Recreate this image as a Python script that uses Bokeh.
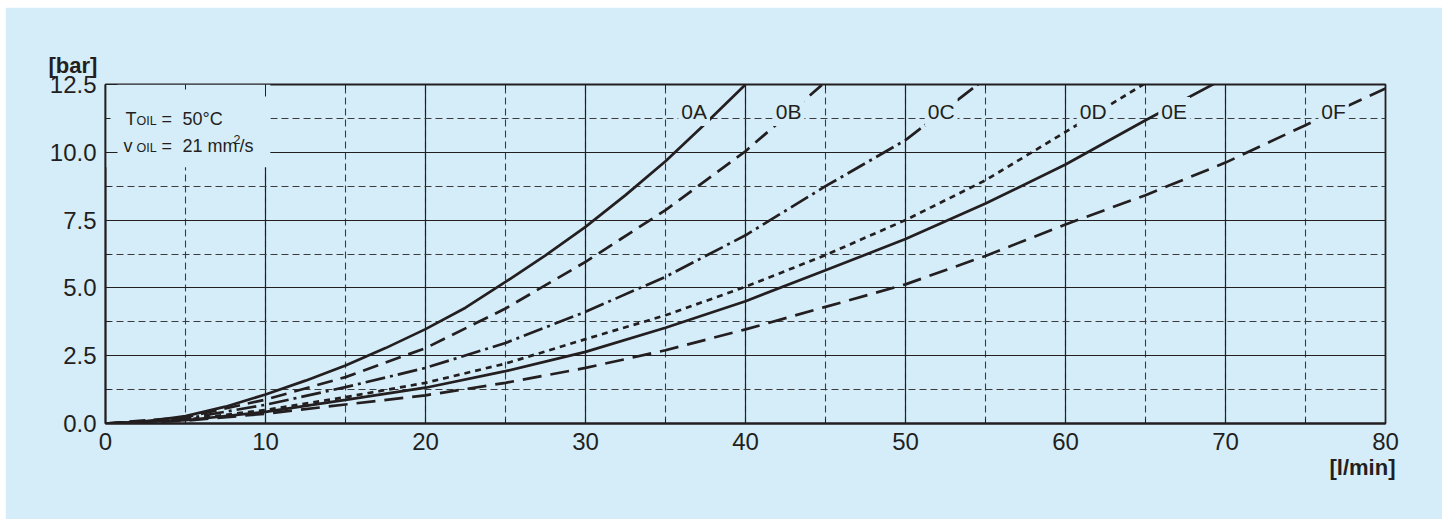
from bokeh.plotting import figure
from bokeh.models import (Range1d, SingleIntervalTicker, LinearAxis, Label, Title,
                          PrintfTickFormatter, CustomJSTickFormatter)
from bokeh.embed import file_html
from bokeh.resources import INLINE

BG = "#d5edf9"
INK = "#231f20"
FONT = "Liberation Sans"

# ---- data: flow [l/min] vs pressure drop [bar] ----
flow_A = [0, 2.5, 5, 7.5, 10, 12.5, 15, 17.5, 20, 22.5, 25, 27.5, 30, 32.5, 35, 37.5, 40]
dp_A = [0, 0.07, 0.27, 0.62, 1.07, 1.58, 2.14, 2.78, 3.48, 4.27, 5.22, 6.2, 7.25, 8.42, 9.67, 11.06, 12.5]

flow_B = [0, 5, 10, 15, 20, 25, 30, 35, 40, 45]
dp_B = [0, 0.23, 0.88, 1.71, 2.78, 4.24, 5.96, 7.87, 10.04, 12.6]

flow_C = [0, 5, 10, 15, 20, 25, 30, 35, 40, 45, 50, 55]
dp_C = [0, 0.18, 0.69, 1.34, 2.05, 2.97, 4.12, 5.41, 6.94, 8.75, 10.45, 12.72]

flow_D = [0, 5, 10, 15, 20, 25, 30, 35, 40, 45, 50, 55, 60, 65]
dp_D = [0, 0.14, 0.5, 0.97, 1.5, 2.21, 3.11, 3.99, 5.04, 6.21, 7.5, 8.97, 10.75, 12.55]

flow_E = [0, 5, 10, 15, 20, 25, 30, 35, 40, 45, 50, 55, 60, 65, 70]
dp_E = [0, 0.12, 0.43, 0.87, 1.32, 1.93, 2.64, 3.53, 4.51, 5.65, 6.8, 8.11, 9.55, 11.18, 12.75]

flow_F = [0, 5, 10, 15, 20, 25, 30, 35, 40, 45, 50, 55, 60, 65, 70, 75, 80]
dp_F = [0, 0.1, 0.36, 0.7, 1.04, 1.5, 2.05, 2.7, 3.47, 4.3, 5.13, 6.18, 7.34, 8.42, 9.62, 11.0, 12.35]

series_names = ["0A", "0B", "0C", "0D", "0E", "0F"]
series_flow = [flow_A, flow_B, flow_C, flow_D, flow_E, flow_F]
series_dp = [dp_A, dp_B, dp_C, dp_D, dp_E, dp_F]

# ---- styles / positions ----
series_dash = ["solid", "16 8", "20 5 3 5", "6 5", "solid", "19 9"]
label_x = [35.8, 41.7, 51.2, 60.7, 65.8, 75.8]
label_y = 11.5
legend_box = dict(left=0, right=10.3, bottom=9.45, top=12.5)

p = figure(frame_width=1280, frame_height=339,
           min_border_left=100, min_border_right=57, min_border_top=77, min_border_bottom=96,
           x_range=Range1d(0, 80), y_range=Range1d(0, 12.5),
           output_backend="svg", toolbar_location=None,
           background_fill_color=BG, border_fill_color=BG,
           outline_line_color=INK, outline_line_width=1.8)
p.margin = (7, 0, 0, 5)

bottom_axis = p.below[0]
left_axis = p.left[0]

xt = SingleIntervalTicker(interval=10, num_minor_ticks=2)
yt = SingleIntervalTicker(interval=2.5, num_minor_ticks=2)
bottom_axis.ticker = xt
left_axis.ticker = yt
p.xgrid.ticker = xt
p.ygrid.ticker = yt
left_axis.formatter = PrintfTickFormatter(format="%.1f")

for g in (p.xgrid, p.ygrid):
    g.grid_line_color = INK
    g.grid_line_width = 1.2
    g.minor_grid_line_color = "#3c3c3c"
    g.minor_grid_line_width = 1.1
    g.minor_grid_line_dash = "7 4"

top_axis = LinearAxis(ticker=xt, formatter=CustomJSTickFormatter(code="return ''"),
                      major_label_standoff=0, major_label_text_font_size="0px")
p.add_layout(top_axis, "above")

for ax in (bottom_axis, left_axis, top_axis):
    ax.major_tick_in = 12
    ax.major_tick_out = 0
    ax.minor_tick_in = 5
    ax.minor_tick_out = 0
    ax.major_tick_line_color = INK
    ax.minor_tick_line_color = INK
    ax.axis_line_color = INK
    ax.axis_line_width = 1.8
    ax.major_label_text_color = INK
top_axis.axis_line_color = None
for ax in (bottom_axis, left_axis):
    ax.major_label_text_font = FONT
    ax.major_label_text_font_size = "24px"
left_axis.major_label_standoff = 9
bottom_axis.major_label_standoff = 9

# axis unit labels as titles (side panels are not clipped)
p.title.text = "[bar]"
p.title.align = "left"
p.title.offset = -57
p.title.standoff = 14
p.title.text_font = FONT
p.title.text_font_size = "22px"
p.title.text_font_style = "bold"
p.title.text_color = INK
p.add_layout(Title(text="[l/min]", align="right", offset=-10, standoff=0,
                   text_font=FONT, text_font_size="22px", text_font_style="bold",
                   text_color=INK), "below")

# background patch behind the legend text
p.quad(left=[legend_box["left"]], right=[legend_box["right"]],
       bottom=[legend_box["bottom"]], top=[legend_box["top"]],
       fill_color=BG, line_color=None)

for fl, dp, dash in zip(series_flow, series_dp, series_dash):
    p.line(fl, dp, line_color=INK, line_width=2.7, line_dash=dash)

for name, lx in zip(series_names, label_x):
    p.add_layout(Label(x=lx, y=label_y, text=name, text_font=FONT, text_font_size="21px",
                       text_color=INK, text_baseline="middle", text_align="left",
                       background_fill_color=BG, padding=3))

def lab(text, dx, dy, size):
    p.add_layout(Label(x=0, y=12.5, x_offset=dx, y_offset=dy, text=text, text_font=FONT,
                       text_font_size=size, text_color=INK, text_align="left",
                       text_baseline="alphabetic"))

# legend text
lab("T", 20, -34, "18px")
lab("OIL", 31, -36, "12.5px")
lab("=", 56, -34, "18px")
lab("50°C", 77, -34, "18px")
lab("v", 18, -61, "18px")
lab("OIL", 31, -63, "12.5px")
lab("=", 56, -61, "18px")
lab("21 mm", 77, -61, "18px")
lab("2", 128, -55, "12.5px")
lab("/s", 134, -61, "18px")

open("out.html", "w").write(file_html(p, INLINE))
